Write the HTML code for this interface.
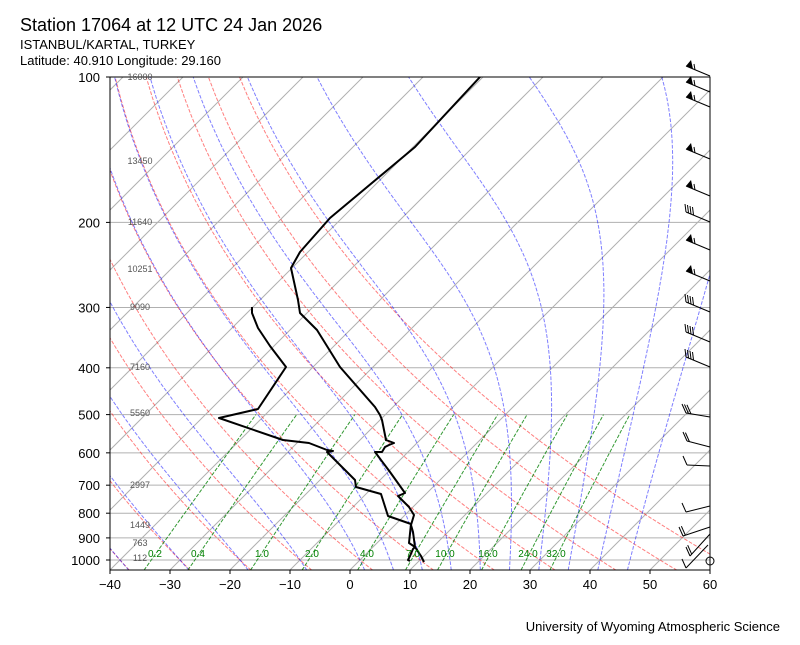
<!DOCTYPE html>
<html><head><meta charset="utf-8">
<style>
body{margin:0;background:#fff;width:800px;height:640px;overflow:hidden;font-family:"Liberation Sans",sans-serif}
svg text{font-family:"Liberation Sans","DejaVu Sans",sans-serif}
</style></head><body>
<svg id="s" width="800" height="640" xmlns="http://www.w3.org/2000/svg">
<defs><clipPath id="c"><rect x="110" y="77" width="600" height="493"/></clipPath></defs>
<g id="bg" clip-path="url(#c)"></g>
<g id="data" clip-path="url(#c)"></g>
<g id="fg"></g>
<text x="20" y="31" font-size="18">Station 17064 at 12 UTC 24 Jan 2026</text>
<text x="20" y="49" font-size="13">ISTANBUL/KARTAL, TURKEY</text>
<text x="20" y="65" font-size="13">Latitude: 40.910 Longitude: 29.160</text>
<text x="780" y="631" font-size="13" text-anchor="end">University of Wyoming Atmospheric Science</text>
</svg>
<script>
const NS="http://www.w3.org/2000/svg";
function Y(p){return 77+(Math.log10(p)-2)*483;}
function X(T,p){return 110+(T+40)*6+(570-Y(p));}
function add(g,tag,attrs,txt){const e=document.createElementNS(NS,tag);for(const k in attrs)e.setAttribute(k,attrs[k]);if(txt!==undefined)e.textContent=txt;document.getElementById(g).appendChild(e);return e;}
function path(g,pts,st){let d="M"+pts.map(p=>p[0].toFixed(1)+","+p[1].toFixed(1)).join("L");return add(g,"path",Object.assign({d:d,fill:"none"},st));}
const dash={"stroke-dasharray":"3.7,1.6","stroke-width":1};
for(let p=100;p<=1000;p+=100){add("bg","line",{x1:110,x2:710,y1:Y(p),y2:Y(p),stroke:"#b0b0b0","stroke-width":1});}
for(let T=-140;T<=60;T+=10){let x0=110+(T+40)*6;add("bg","line",{x1:x0,y1:570,x2:x0+493,y2:77,stroke:"#b0b0b0","stroke-width":1});}
for(let t0=-50;t0<=60;t0+=10){let th=t0+273.15,pts=[];for(let p=1050;p>=100;p-=10){let T=th*Math.pow(p/1000,0.2857)-273.15;pts.push([X(T,p),Y(p)]);}path("bg",pts,Object.assign({stroke:"#ff0000","stroke-opacity":0.5},dash));}
function es(Tc){return 6.112*Math.exp(17.67*Tc/(Tc+243.5));}
function dTdp(T,p){const Rd=287.04,Cp=1005.7,Lv=2.501e6,eps=0.622;let e=es(T-273.15),rs=eps*e/(p-e);return (Rd*T+Lv*rs)/(p*(Cp+Lv*Lv*rs*eps/(Rd*T*T)));}
function integ(T,p0,p1,dp){let pts=[],p=p0;pts.push([T,p]);while((dp<0&&p>p1)||(dp>0&&p<p1)){let k1=dTdp(T,p),k2=dTdp(T+k1*dp/2,p+dp/2),k3=dTdp(T+k2*dp/2,p+dp/2),k4=dTdp(T+k3*dp,p+dp);T+=dp*(k1+2*k2+2*k3+k4)/6;p+=dp;pts.push([T,p]);}return pts;}
let mt=[-40,-30,-20,-10,0,5,10,15,20,25,30,35,40,45];
mt.forEach(t0=>{let up=integ(t0+273.15,1000,100,-5),dn=integ(t0+273.15,1000,1050,5);let all=dn.reverse().concat(up.slice(1));path("bg",all.map(a=>[X(a[0]-273.15,a[1]),Y(a[1])]),Object.assign({stroke:"#0000ff","stroke-opacity":0.5},dash));});
[0.2,0.4,1,2,4,7,10,16,24,32].forEach(w=>{let pts=[];for(let p=1050;p>=500;p-=10){let e=w*p/(622+w),l=Math.log(e/6.112),Td=243.5*l/(17.67-l);pts.push([X(Td,p),Y(p)]);}path("bg",pts,Object.assign({stroke:"#008000","stroke-opacity":0.8},dash));});
[["0.2",155],["0.4",198],["1.0",262],["2.0",312],["4.0",367],["7.0",413],["10.0",445],["16.0",488],["24.0",528],["32.0",556]].forEach(a=>add("fg","text",{x:a[1],y:557,"font-size":10,fill:"#008000","text-anchor":"middle"},a[0]));
const Tp=[[480,77],[415,147],[330,218],[300,252],[291,268],[298,300],[300,313],[317,330],[340,367],[375,407],[380,415],[382,420],[386,440],[394,443],[389,445],[385,447],[382,452],[375,452],[390,472],[405,493],[398,496],[409,507],[414,515],[411,525],[413,532],[415,547],[421,556],[424,562]];
const Dp=[[252,307],[252,313],[258,328],[270,346],[286,367],[258,409],[219,418],[283,440],[309,443],[327,450],[333,451],[327,452],[355,480],[356,487],[381,494],[388,516],[411,524],[409,543],[415,547],[413,549],[410,556],[408,560],[410,561]];
path("data",Tp,{stroke:"#000","stroke-width":2,"stroke-linejoin":"round"});
path("data",Dp,{stroke:"#000","stroke-width":2,"stroke-linejoin":"round"});
add("fg","rect",{x:110,y:77,width:600,height:493,fill:"none",stroke:"#000","stroke-width":1});
for(let p=100;p<=1000;p+=100){add("fg","line",{x1:106,x2:110,y1:Y(p),y2:Y(p),stroke:"#000"});add("fg","text",{x:100,y:Y(p)+5,"font-size":13,"text-anchor":"end"},String(p));}
for(let T=-40;T<=60;T+=10){let x=110+(T+40)*6;add("fg","line",{x1:x,x2:x,y1:570,y2:574,stroke:"#000"});add("fg","text",{x:x,y:589,"font-size":13,"text-anchor":"middle"},(T<0?"\u2212"+(-T):String(T)));}
[["16000",77],["13450",161],["11640",222],["10251",269],["9090",307],["7160",367],["5560",413],["2997",485],["1449",525],["763",543],["112",558]].forEach(a=>add("fg","text",{x:140,y:a[1]+3,"font-size":9,fill:"#555","text-anchor":"middle"},a[0]));
const bars=[[76,"f"],[92,"f"],[107,"f"],[159,"f"],[196,"f"],[222,"b4"],[250,"f"],[281,"f"],[312,"b4"],[342,"b4"],[367,"b4"]];
bars.forEach(b=>{let y=b[0],tx=686,ty=y-10;add("fg","line",{x1:710,y1:y,x2:tx,y2:ty,stroke:"#000","stroke-width":1});
if(b[1]=="f"){add("fg","polygon",{points:`${tx},${ty} ${tx+7},${ty+3} ${tx+5},${ty-6}`,fill:"#000"});add("fg","line",{x1:tx+9,y1:ty+4,x2:tx+8,y2:ty-2,stroke:"#000"});}
else{let n=+b[1][1];for(let i=0;i<n;i++){let bx=tx+i*2.5,by=ty+i*1;add("fg","line",{x1:bx,y1:by,x2:bx-1,y2:by-8,stroke:"#000"});}}});
const lb=[[710,417,686,413,3],[710,447,687,441,2],[710,466,687,465,1],[710,506,686,512,1],[710,527,683,536,2],[710,534,690,556,2],[708,545,686,568,1]];
lb.forEach(b=>{add("fg","line",{x1:b[0],y1:b[1],x2:b[2],y2:b[3],stroke:"#000"});let dx=(b[0]-b[2]),dy=(b[1]-b[3]),L=Math.hypot(dx,dy);dx/=L;dy/=L;
for(let i=0;i<b[4];i++){let bx=b[2]+dx*i*2.5,by=b[3]+dy*i*2.5;add("fg","line",{x1:bx,y1:by,x2:bx-4,y2:by-9,stroke:"#000"});}});
add("fg","circle",{cx:710,cy:561,r:4,fill:"none",stroke:"#000"});
</script>
</body></html>
